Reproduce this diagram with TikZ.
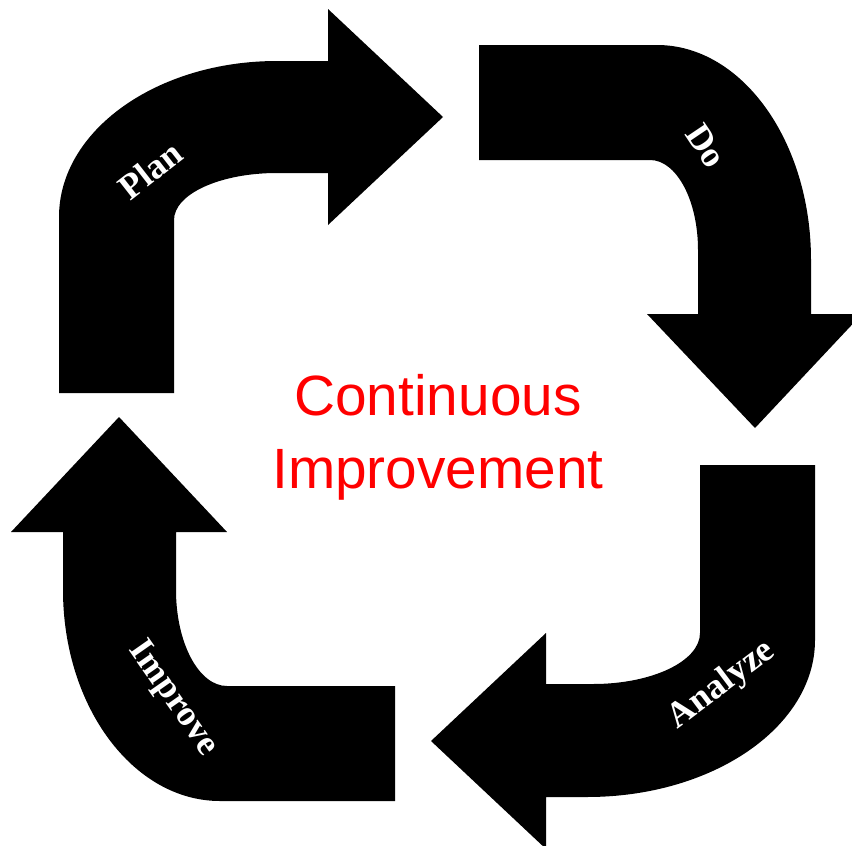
\documentclass[tikz,border=0pt]{standalone}
\usepackage{fontspec}
\setmainfont{Liberation Serif}
\newfontfamily\centerfont{Liberation Sans}
\tikzset{
  bentarrow/.style={fill=black, draw=none},
  arrowlabel/.style={text=white, font=\fontsize{36}{40}\selectfont\bfseries, inner sep=0pt},
  titletext/.style={text={rgb,255:red,255;green,0;blue,0}, font=\centerfont\fontsize{57}{73}\selectfont, inner sep=0pt, anchor=base}
}
\begin{document}
\begin{tikzpicture}[x=1bp, y=-1bp]
\useasboundingbox (0,0) rectangle (852,846);
\begin{scope}
\clip (0,0) rectangle (852,846);
% Plan arrow
\path[bentarrow] (59,393) -- (59,217)
  .. controls (59,130.8) and (156.6,61) .. (277,61)
  -- (328,61) -- (328,9) -- (443,117) -- (328,225) -- (328,173) -- (277,173)
  .. controls (220.1,173) and (174,194) .. (174,220)
  -- (174,393) -- cycle;
% Do arrow
\path[bentarrow] (479,45) -- (657,45)
  .. controls (742,45) and (811,141.3) .. (811,260)
  -- (811,314) -- (862,314) -- (755,428) -- (647,314) -- (698,314) -- (698,250)
  .. controls (698,200.3) and (676.5,160) .. (650,160)
  -- (479,160) -- cycle;
% Analyze arrow
\path[bentarrow] (700,465) -- (815,465) -- (815,640)
  .. controls (815,726.7) and (712.9,797) .. (587,797)
  -- (546,797) -- (546,849) -- (431,741) -- (546,633) -- (546,684) -- (593,684)
  .. controls (652.1,684) and (700,661.2) .. (700,633)
  -- cycle;
% Improve arrow
\path[bentarrow] (395,686) -- (227,686)
  .. controls (198.8,686) and (176,643) .. (176,590)
  -- (176,532) -- (227,532) -- (119,417) -- (11,532) -- (63,532) -- (63,590)
  .. controls (63,706.5) and (133.3,801) .. (220,801)
  -- (395,801) -- cycle;
\end{scope}
% labels
\node[arrowlabel, rotate=38] (plan) at (150,170) {Plan};
\node[arrowlabel, rotate=-56] (do) at (706,146) {Do};
\node[arrowlabel, rotate=37] (analyze) at (722,685) {Analyze};
\node[arrowlabel, rotate=-55] (improve) at (173,699) {Improve};
% centre text
\node[titletext] (t1) at (438,415) {Continuous};
\node[titletext] (t2) at (438,488) {Improvement};
\end{tikzpicture}
\end{document}
